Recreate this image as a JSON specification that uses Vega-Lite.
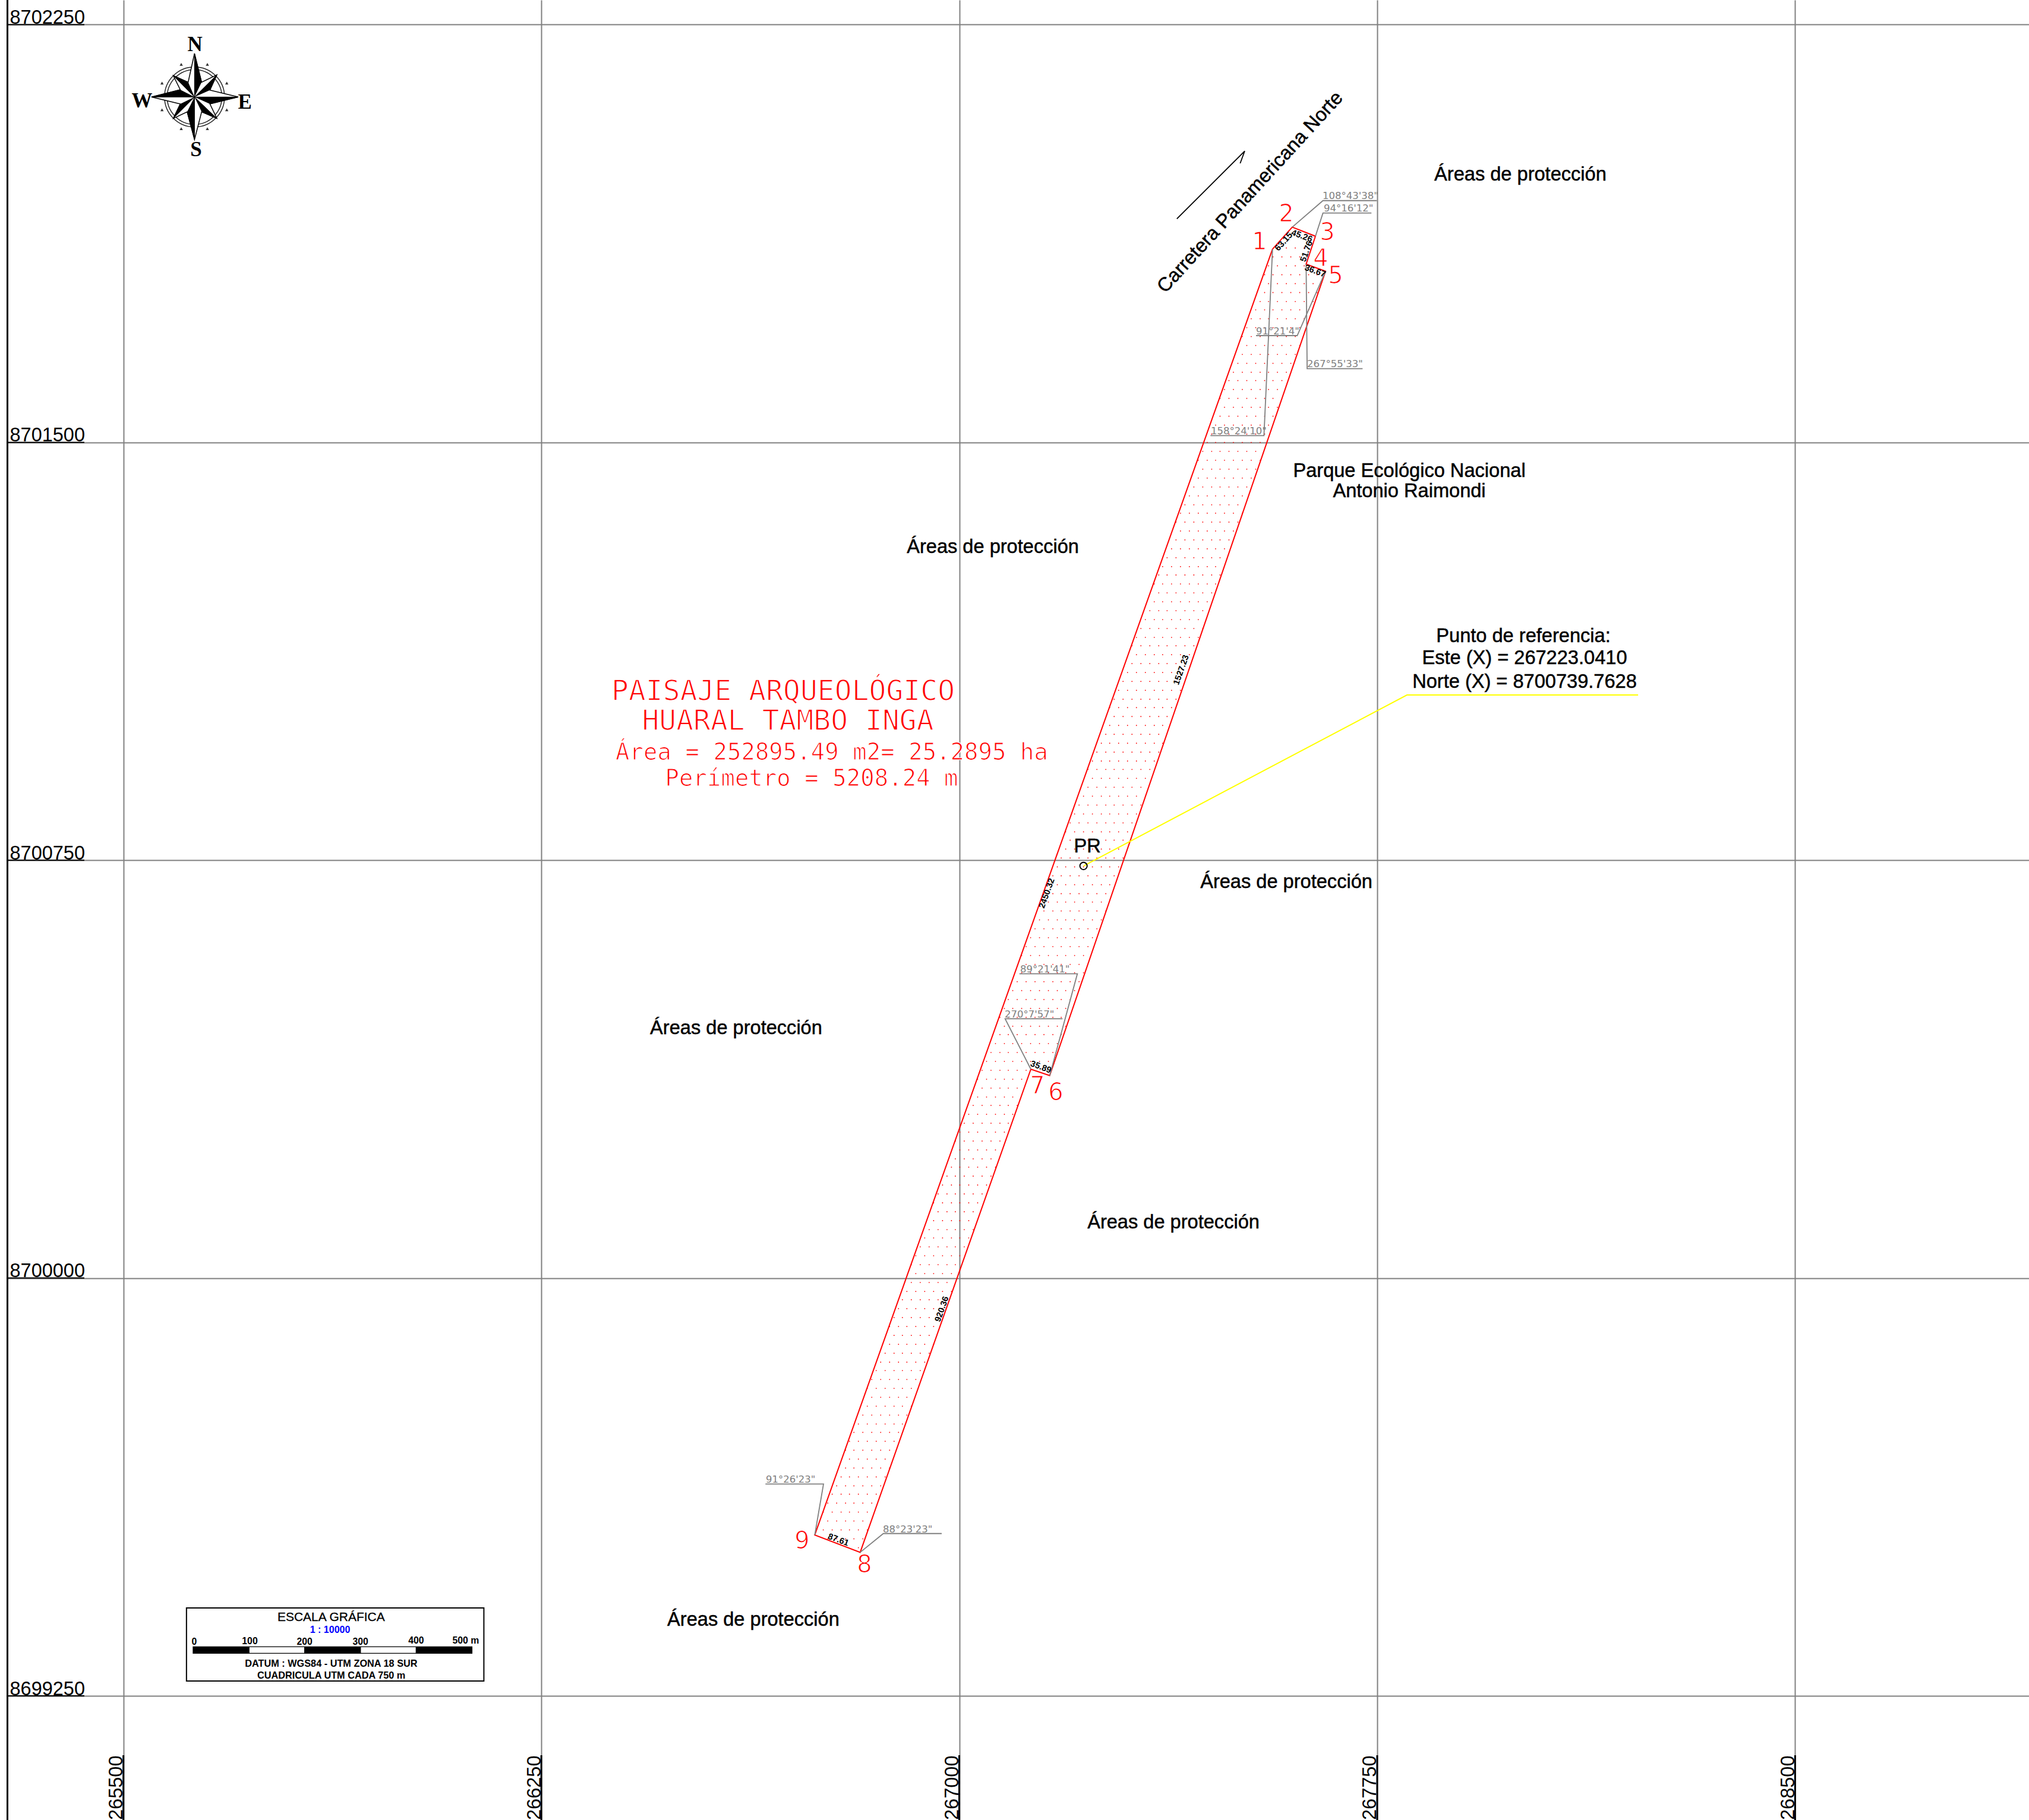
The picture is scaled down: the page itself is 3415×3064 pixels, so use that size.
{"$schema":"https://vega.github.io/schema/vega-lite/v6.json","width":3415,"height":3064,"padding":0,"autosize":{"type":"none"},"background":"white","config":{"view":{"stroke":null}},
"encoding":{"x":{"field":"x","type":"quantitative","scale":{"domain":[265278.55,268919.75],"zero":false,"nice":false},"axis":{"title":null,"values":[265500,266250,267000,267750,268500],"format":"d","domain":false,"ticks":false,"grid":true,"gridColor":"#808080","gridWidth":2,"labels":true,"labelFont":"Liberation Sans","labelFontSize":32.5,"labelColor":"#000","labelAngle":-90,"labelAlign":"right","labelBaseline":"alphabetic","labelPadding":-109,"labelOffset":-2,"labelBound":false,"labelFlush":false,"labelOverlap":false,"encode":{"labels":{"update":{"stroke":{"value":"#000"},"strokeWidth":{"value":0.5}}}}}},"y":{"field":"y","type":"quantitative","scale":{"domain":[8699027.18,8702294.14],"zero":false,"nice":false},"axis":{"title":null,"values":[8699250,8700000,8700750,8701500,8702250],"format":"d","domain":false,"ticks":false,"grid":true,"gridColor":"#808080","gridWidth":2,"labels":true,"labelFont":"Liberation Sans","labelFontSize":32.5,"labelColor":"#000","labelAlign":"left","labelBaseline":"alphabetic","labelPadding":-16,"labelOffset":-2,"labelBound":false,"labelFlush":false,"labelOverlap":false,"encode":{"labels":{"update":{"stroke":{"value":"#000"},"strokeWidth":{"value":0.5}}}}}}},
"layer":[
{"data":{"values":[{"x":265278.55,"x2":265290.3,"y":8699027.18,"y2":8702294.14}]},"mark":{"type":"rect","color":"white"},"encoding":{"x2":{"field":"x2"},"y2":{"field":"y2"}}},
{"data":{"values":[{"x":265291.9,"y":8699027.18,"y2":8702294.14},{"x":265500,"y":8699027.18,"y2":8699143.4},{"x":266250,"y":8699027.18,"y2":8699143.4},{"x":267000,"y":8699027.18,"y2":8699143.4},{"x":267750,"y":8699027.18,"y2":8699143.4},{"x":268500,"y":8699027.18,"y2":8699143.4}]},"mark":{"type":"rule","color":"#000","strokeWidth":3},"encoding":{"y2":{"field":"y2"}}},
{"data":{"values":[{"y":8699250,"x":265293.5,"x2":265429.9},{"y":8700000,"x":265293.5,"x2":265429.9},{"y":8700750,"x":265293.5,"x2":265429.9},{"y":8701500,"x":265293.5,"x2":265429.9},{"y":8702250,"x":265293.5,"x2":265429.9}]},"mark":{"type":"rule","color":"#000","strokeWidth":2},"encoding":{"x2":{"field":"x2"}}},
{"data":{"values":[
{"x":266819,"y":8699516},
{"x":266764,"y":8699532},{"x":266780,"y":8699532},{"x":266796,"y":8699532},{"x":266811,"y":8699532},{"x":266827,"y":8699532},
{"x":266756,"y":8699548},{"x":266772,"y":8699548},{"x":266788,"y":8699548},{"x":266803,"y":8699548},{"x":266819,"y":8699548},{"x":266835,"y":8699548},
{"x":266764,"y":8699564},{"x":266780,"y":8699564},{"x":266796,"y":8699564},{"x":266811,"y":8699564},{"x":266827,"y":8699564},
{"x":266756,"y":8699580},{"x":266772,"y":8699580},{"x":266788,"y":8699580},{"x":266803,"y":8699580},{"x":266819,"y":8699580},{"x":266835,"y":8699580},
{"x":266764,"y":8699596},{"x":266780,"y":8699596},{"x":266796,"y":8699596},{"x":266811,"y":8699596},{"x":266827,"y":8699596},{"x":266843,"y":8699596},
{"x":266772,"y":8699612},{"x":266788,"y":8699612},{"x":266803,"y":8699612},{"x":266819,"y":8699612},{"x":266835,"y":8699612},{"x":266851,"y":8699612},
{"x":266780,"y":8699627},{"x":266796,"y":8699627},{"x":266811,"y":8699627},{"x":266827,"y":8699627},{"x":266843,"y":8699627},{"x":266859,"y":8699627},
{"x":266788,"y":8699643},{"x":266803,"y":8699643},{"x":266819,"y":8699643},{"x":266835,"y":8699643},{"x":266851,"y":8699643},{"x":266867,"y":8699643},
{"x":266796,"y":8699659},{"x":266811,"y":8699659},{"x":266827,"y":8699659},{"x":266843,"y":8699659},{"x":266859,"y":8699659},{"x":266875,"y":8699659},
{"x":266803,"y":8699675},{"x":266819,"y":8699675},{"x":266835,"y":8699675},{"x":266851,"y":8699675},{"x":266867,"y":8699675},
{"x":266796,"y":8699691},{"x":266811,"y":8699691},{"x":266827,"y":8699691},{"x":266843,"y":8699691},{"x":266859,"y":8699691},{"x":266875,"y":8699691},
{"x":266803,"y":8699707},{"x":266819,"y":8699707},{"x":266835,"y":8699707},{"x":266851,"y":8699707},{"x":266867,"y":8699707},{"x":266883,"y":8699707},
{"x":266811,"y":8699723},{"x":266827,"y":8699723},{"x":266843,"y":8699723},{"x":266859,"y":8699723},{"x":266875,"y":8699723},{"x":266891,"y":8699723},
{"x":266819,"y":8699738},{"x":266835,"y":8699738},{"x":266851,"y":8699738},{"x":266867,"y":8699738},{"x":266883,"y":8699738},{"x":266898,"y":8699738},
{"x":266827,"y":8699754},{"x":266843,"y":8699754},{"x":266859,"y":8699754},{"x":266875,"y":8699754},{"x":266891,"y":8699754},{"x":266906,"y":8699754},
{"x":266835,"y":8699770},{"x":266851,"y":8699770},{"x":266867,"y":8699770},{"x":266883,"y":8699770},{"x":266898,"y":8699770},{"x":266914,"y":8699770},
{"x":266843,"y":8699786},{"x":266859,"y":8699786},{"x":266875,"y":8699786},{"x":266891,"y":8699786},{"x":266906,"y":8699786},
{"x":266835,"y":8699802},{"x":266851,"y":8699802},{"x":266867,"y":8699802},{"x":266883,"y":8699802},{"x":266898,"y":8699802},{"x":266914,"y":8699802},
{"x":266843,"y":8699818},{"x":266859,"y":8699818},{"x":266875,"y":8699818},{"x":266891,"y":8699818},{"x":266906,"y":8699818},{"x":266922,"y":8699818},
{"x":266851,"y":8699834},{"x":266867,"y":8699834},{"x":266883,"y":8699834},{"x":266898,"y":8699834},{"x":266914,"y":8699834},{"x":266930,"y":8699834},
{"x":266859,"y":8699849},{"x":266875,"y":8699849},{"x":266891,"y":8699849},{"x":266906,"y":8699849},{"x":266922,"y":8699849},{"x":266938,"y":8699849},
{"x":266867,"y":8699865},{"x":266883,"y":8699865},{"x":266898,"y":8699865},{"x":266914,"y":8699865},{"x":266930,"y":8699865},{"x":266946,"y":8699865},
{"x":266875,"y":8699881},{"x":266891,"y":8699881},{"x":266906,"y":8699881},{"x":266922,"y":8699881},{"x":266938,"y":8699881},{"x":266954,"y":8699881},
{"x":266883,"y":8699897},{"x":266898,"y":8699897},{"x":266914,"y":8699897},{"x":266930,"y":8699897},{"x":266946,"y":8699897},
{"x":266875,"y":8699913},{"x":266891,"y":8699913},{"x":266906,"y":8699913},{"x":266922,"y":8699913},{"x":266938,"y":8699913},{"x":266954,"y":8699913},
{"x":266883,"y":8699929},{"x":266898,"y":8699929},{"x":266914,"y":8699929},{"x":266930,"y":8699929},{"x":266946,"y":8699929},{"x":266962,"y":8699929},
{"x":266891,"y":8699945},{"x":266906,"y":8699945},{"x":266922,"y":8699945},{"x":266938,"y":8699945},{"x":266954,"y":8699945},{"x":266970,"y":8699945},
{"x":266898,"y":8699961},{"x":266914,"y":8699961},{"x":266930,"y":8699961},{"x":266946,"y":8699961},{"x":266962,"y":8699961},{"x":266978,"y":8699961},
{"x":266906,"y":8699976},{"x":266922,"y":8699976},{"x":266938,"y":8699976},{"x":266954,"y":8699976},{"x":266970,"y":8699976},{"x":266986,"y":8699976},
{"x":266914,"y":8699992},{"x":266930,"y":8699992},{"x":266946,"y":8699992},{"x":266962,"y":8699992},{"x":266978,"y":8699992},
{"x":266922,"y":8700008},{"x":266938,"y":8700008},{"x":266954,"y":8700008},{"x":266970,"y":8700008},{"x":266986,"y":8700008},
{"x":266914,"y":8700024},{"x":266930,"y":8700024},{"x":266946,"y":8700024},{"x":266962,"y":8700024},{"x":266978,"y":8700024},{"x":266993,"y":8700024},
{"x":266922,"y":8700040},{"x":266938,"y":8700040},{"x":266954,"y":8700040},{"x":266970,"y":8700040},{"x":266986,"y":8700040},{"x":267001,"y":8700040},
{"x":266930,"y":8700056},{"x":266946,"y":8700056},{"x":266962,"y":8700056},{"x":266978,"y":8700056},{"x":266993,"y":8700056},{"x":267009,"y":8700056},
{"x":266938,"y":8700072},{"x":266954,"y":8700072},{"x":266970,"y":8700072},{"x":266986,"y":8700072},{"x":267001,"y":8700072},{"x":267017,"y":8700072},
{"x":266946,"y":8700087},{"x":266962,"y":8700087},{"x":266978,"y":8700087},{"x":266993,"y":8700087},{"x":267009,"y":8700087},{"x":267025,"y":8700087},
{"x":266954,"y":8700103},{"x":266970,"y":8700103},{"x":266986,"y":8700103},{"x":267001,"y":8700103},{"x":267017,"y":8700103},
{"x":266962,"y":8700119},{"x":266978,"y":8700119},{"x":266993,"y":8700119},{"x":267009,"y":8700119},{"x":267025,"y":8700119},
{"x":266954,"y":8700135},{"x":266970,"y":8700135},{"x":266986,"y":8700135},{"x":267001,"y":8700135},{"x":267017,"y":8700135},{"x":267033,"y":8700135},
{"x":266962,"y":8700151},{"x":266978,"y":8700151},{"x":266993,"y":8700151},{"x":267009,"y":8700151},{"x":267025,"y":8700151},{"x":267041,"y":8700151},
{"x":266970,"y":8700167},{"x":266986,"y":8700167},{"x":267001,"y":8700167},{"x":267017,"y":8700167},{"x":267033,"y":8700167},{"x":267049,"y":8700167},
{"x":266978,"y":8700183},{"x":266993,"y":8700183},{"x":267009,"y":8700183},{"x":267025,"y":8700183},{"x":267041,"y":8700183},{"x":267057,"y":8700183},
{"x":266986,"y":8700199},{"x":267001,"y":8700199},{"x":267017,"y":8700199},{"x":267033,"y":8700199},{"x":267049,"y":8700199},{"x":267065,"y":8700199},
{"x":266993,"y":8700214},{"x":267009,"y":8700214},{"x":267025,"y":8700214},{"x":267041,"y":8700214},{"x":267057,"y":8700214},
{"x":267001,"y":8700230},{"x":267017,"y":8700230},{"x":267033,"y":8700230},{"x":267049,"y":8700230},{"x":267065,"y":8700230},
{"x":266993,"y":8700246},{"x":267009,"y":8700246},{"x":267025,"y":8700246},{"x":267041,"y":8700246},{"x":267057,"y":8700246},{"x":267073,"y":8700246},
{"x":267001,"y":8700262},{"x":267017,"y":8700262},{"x":267033,"y":8700262},{"x":267049,"y":8700262},{"x":267065,"y":8700262},{"x":267081,"y":8700262},
{"x":267009,"y":8700278},{"x":267025,"y":8700278},{"x":267041,"y":8700278},{"x":267057,"y":8700278},{"x":267073,"y":8700278},{"x":267088,"y":8700278},
{"x":267017,"y":8700294},{"x":267033,"y":8700294},{"x":267049,"y":8700294},{"x":267065,"y":8700294},{"x":267081,"y":8700294},{"x":267096,"y":8700294},
{"x":267025,"y":8700310},{"x":267041,"y":8700310},{"x":267057,"y":8700310},{"x":267073,"y":8700310},{"x":267088,"y":8700310},{"x":267104,"y":8700310},
{"x":267033,"y":8700325},{"x":267049,"y":8700325},{"x":267065,"y":8700325},{"x":267081,"y":8700325},{"x":267096,"y":8700325},
{"x":267041,"y":8700341},{"x":267057,"y":8700341},{"x":267073,"y":8700341},{"x":267088,"y":8700341},{"x":267104,"y":8700341},
{"x":267033,"y":8700357},{"x":267049,"y":8700357},{"x":267065,"y":8700357},{"x":267081,"y":8700357},{"x":267096,"y":8700357},{"x":267112,"y":8700357},
{"x":267041,"y":8700373},{"x":267057,"y":8700373},{"x":267073,"y":8700373},{"x":267088,"y":8700373},{"x":267104,"y":8700373},{"x":267120,"y":8700373},
{"x":267049,"y":8700389},{"x":267065,"y":8700389},{"x":267081,"y":8700389},{"x":267096,"y":8700389},{"x":267112,"y":8700389},{"x":267128,"y":8700389},{"x":267144,"y":8700389},{"x":267160,"y":8700389},
{"x":267057,"y":8700405},{"x":267073,"y":8700405},{"x":267088,"y":8700405},{"x":267104,"y":8700405},{"x":267120,"y":8700405},{"x":267136,"y":8700405},{"x":267152,"y":8700405},{"x":267168,"y":8700405},
{"x":267065,"y":8700421},{"x":267081,"y":8700421},{"x":267096,"y":8700421},{"x":267112,"y":8700421},{"x":267128,"y":8700421},{"x":267144,"y":8700421},{"x":267160,"y":8700421},{"x":267176,"y":8700421},
{"x":267073,"y":8700437},{"x":267088,"y":8700437},{"x":267104,"y":8700437},{"x":267120,"y":8700437},{"x":267136,"y":8700437},{"x":267152,"y":8700437},{"x":267168,"y":8700437},{"x":267183,"y":8700437},
{"x":267081,"y":8700452},{"x":267096,"y":8700452},{"x":267112,"y":8700452},{"x":267128,"y":8700452},{"x":267144,"y":8700452},{"x":267160,"y":8700452},{"x":267176,"y":8700452},{"x":267191,"y":8700452},
{"x":267073,"y":8700468},{"x":267088,"y":8700468},{"x":267104,"y":8700468},{"x":267120,"y":8700468},{"x":267136,"y":8700468},{"x":267152,"y":8700468},{"x":267168,"y":8700468},{"x":267183,"y":8700468},
{"x":267081,"y":8700484},{"x":267096,"y":8700484},{"x":267112,"y":8700484},{"x":267128,"y":8700484},{"x":267144,"y":8700484},{"x":267160,"y":8700484},{"x":267176,"y":8700484},{"x":267191,"y":8700484},
{"x":267088,"y":8700500},{"x":267104,"y":8700500},{"x":267120,"y":8700500},{"x":267136,"y":8700500},{"x":267152,"y":8700500},{"x":267168,"y":8700500},{"x":267183,"y":8700500},{"x":267199,"y":8700500},
{"x":267096,"y":8700516},{"x":267112,"y":8700516},{"x":267128,"y":8700516},{"x":267144,"y":8700516},{"x":267160,"y":8700516},{"x":267176,"y":8700516},{"x":267191,"y":8700516},{"x":267207,"y":8700516},
{"x":267104,"y":8700532},{"x":267120,"y":8700532},{"x":267136,"y":8700532},{"x":267152,"y":8700532},{"x":267168,"y":8700532},{"x":267183,"y":8700532},{"x":267199,"y":8700532},{"x":267215,"y":8700532},
{"x":267112,"y":8700548},{"x":267128,"y":8700548},{"x":267144,"y":8700548},{"x":267160,"y":8700548},{"x":267176,"y":8700548},{"x":267191,"y":8700548},{"x":267207,"y":8700548},{"x":267223,"y":8700548},
{"x":267120,"y":8700563},{"x":267136,"y":8700563},{"x":267152,"y":8700563},{"x":267168,"y":8700563},{"x":267183,"y":8700563},{"x":267199,"y":8700563},{"x":267215,"y":8700563},
{"x":267112,"y":8700579},{"x":267128,"y":8700579},{"x":267144,"y":8700579},{"x":267160,"y":8700579},{"x":267176,"y":8700579},{"x":267191,"y":8700579},{"x":267207,"y":8700579},{"x":267223,"y":8700579},
{"x":267120,"y":8700595},{"x":267136,"y":8700595},{"x":267152,"y":8700595},{"x":267168,"y":8700595},{"x":267183,"y":8700595},{"x":267199,"y":8700595},{"x":267215,"y":8700595},{"x":267231,"y":8700595},
{"x":267128,"y":8700611},{"x":267144,"y":8700611},{"x":267160,"y":8700611},{"x":267176,"y":8700611},{"x":267191,"y":8700611},{"x":267207,"y":8700611},{"x":267223,"y":8700611},{"x":267239,"y":8700611},
{"x":267136,"y":8700627},{"x":267152,"y":8700627},{"x":267168,"y":8700627},{"x":267183,"y":8700627},{"x":267199,"y":8700627},{"x":267215,"y":8700627},{"x":267231,"y":8700627},{"x":267247,"y":8700627},
{"x":267144,"y":8700643},{"x":267160,"y":8700643},{"x":267176,"y":8700643},{"x":267191,"y":8700643},{"x":267207,"y":8700643},{"x":267223,"y":8700643},{"x":267239,"y":8700643},{"x":267255,"y":8700643},
{"x":267152,"y":8700659},{"x":267168,"y":8700659},{"x":267183,"y":8700659},{"x":267199,"y":8700659},{"x":267215,"y":8700659},{"x":267231,"y":8700659},{"x":267247,"y":8700659},{"x":267263,"y":8700659},
{"x":267160,"y":8700675},{"x":267176,"y":8700675},{"x":267191,"y":8700675},{"x":267207,"y":8700675},{"x":267223,"y":8700675},{"x":267239,"y":8700675},{"x":267255,"y":8700675},
{"x":267152,"y":8700690},{"x":267168,"y":8700690},{"x":267183,"y":8700690},{"x":267199,"y":8700690},{"x":267215,"y":8700690},{"x":267231,"y":8700690},{"x":267247,"y":8700690},{"x":267263,"y":8700690},
{"x":267160,"y":8700706},{"x":267176,"y":8700706},{"x":267191,"y":8700706},{"x":267207,"y":8700706},{"x":267223,"y":8700706},{"x":267239,"y":8700706},{"x":267255,"y":8700706},{"x":267270,"y":8700706},
{"x":267168,"y":8700722},{"x":267183,"y":8700722},{"x":267199,"y":8700722},{"x":267215,"y":8700722},{"x":267231,"y":8700722},{"x":267247,"y":8700722},{"x":267263,"y":8700722},{"x":267278,"y":8700722},
{"x":267176,"y":8700738},{"x":267191,"y":8700738},{"x":267207,"y":8700738},{"x":267223,"y":8700738},{"x":267239,"y":8700738},{"x":267255,"y":8700738},{"x":267270,"y":8700738},{"x":267286,"y":8700738},
{"x":267183,"y":8700754},{"x":267199,"y":8700754},{"x":267215,"y":8700754},{"x":267231,"y":8700754},{"x":267247,"y":8700754},{"x":267263,"y":8700754},{"x":267278,"y":8700754},{"x":267294,"y":8700754},
{"x":267191,"y":8700770},{"x":267207,"y":8700770},{"x":267223,"y":8700770},{"x":267239,"y":8700770},{"x":267255,"y":8700770},{"x":267270,"y":8700770},{"x":267286,"y":8700770},
{"x":267199,"y":8700786},{"x":267215,"y":8700786},{"x":267231,"y":8700786},{"x":267247,"y":8700786},{"x":267263,"y":8700786},{"x":267278,"y":8700786},{"x":267294,"y":8700786},
{"x":267191,"y":8700801},{"x":267207,"y":8700801},{"x":267223,"y":8700801},{"x":267239,"y":8700801},{"x":267255,"y":8700801},{"x":267270,"y":8700801},{"x":267286,"y":8700801},{"x":267302,"y":8700801},
{"x":267199,"y":8700817},{"x":267215,"y":8700817},{"x":267231,"y":8700817},{"x":267247,"y":8700817},{"x":267263,"y":8700817},{"x":267278,"y":8700817},{"x":267294,"y":8700817},{"x":267310,"y":8700817},
{"x":267207,"y":8700833},{"x":267223,"y":8700833},{"x":267239,"y":8700833},{"x":267255,"y":8700833},{"x":267270,"y":8700833},{"x":267286,"y":8700833},{"x":267302,"y":8700833},{"x":267318,"y":8700833},
{"x":267215,"y":8700849},{"x":267231,"y":8700849},{"x":267247,"y":8700849},{"x":267263,"y":8700849},{"x":267278,"y":8700849},{"x":267294,"y":8700849},{"x":267310,"y":8700849},{"x":267326,"y":8700849},
{"x":267223,"y":8700865},{"x":267239,"y":8700865},{"x":267255,"y":8700865},{"x":267270,"y":8700865},{"x":267286,"y":8700865},{"x":267302,"y":8700865},{"x":267318,"y":8700865},{"x":267334,"y":8700865},
{"x":267231,"y":8700881},{"x":267247,"y":8700881},{"x":267263,"y":8700881},{"x":267278,"y":8700881},{"x":267294,"y":8700881},{"x":267310,"y":8700881},{"x":267326,"y":8700881},
{"x":267239,"y":8700897},{"x":267255,"y":8700897},{"x":267270,"y":8700897},{"x":267286,"y":8700897},{"x":267302,"y":8700897},{"x":267318,"y":8700897},{"x":267334,"y":8700897},
{"x":267231,"y":8700913},{"x":267247,"y":8700913},{"x":267263,"y":8700913},{"x":267278,"y":8700913},{"x":267294,"y":8700913},{"x":267310,"y":8700913},{"x":267326,"y":8700913},{"x":267342,"y":8700913},
{"x":267239,"y":8700928},{"x":267255,"y":8700928},{"x":267270,"y":8700928},{"x":267286,"y":8700928},{"x":267302,"y":8700928},{"x":267318,"y":8700928},{"x":267334,"y":8700928},{"x":267350,"y":8700928},
{"x":267247,"y":8700944},{"x":267263,"y":8700944},{"x":267278,"y":8700944},{"x":267294,"y":8700944},{"x":267310,"y":8700944},{"x":267326,"y":8700944},{"x":267342,"y":8700944},{"x":267358,"y":8700944},
{"x":267255,"y":8700960},{"x":267270,"y":8700960},{"x":267286,"y":8700960},{"x":267302,"y":8700960},{"x":267318,"y":8700960},{"x":267334,"y":8700960},{"x":267350,"y":8700960},{"x":267365,"y":8700960},
{"x":267263,"y":8700976},{"x":267278,"y":8700976},{"x":267294,"y":8700976},{"x":267310,"y":8700976},{"x":267326,"y":8700976},{"x":267342,"y":8700976},{"x":267358,"y":8700976},
{"x":267270,"y":8700992},{"x":267286,"y":8700992},{"x":267302,"y":8700992},{"x":267318,"y":8700992},{"x":267334,"y":8700992},{"x":267350,"y":8700992},{"x":267365,"y":8700992},
{"x":267278,"y":8701008},{"x":267294,"y":8701008},{"x":267310,"y":8701008},{"x":267326,"y":8701008},{"x":267342,"y":8701008},{"x":267358,"y":8701008},{"x":267373,"y":8701008},
{"x":267270,"y":8701024},{"x":267286,"y":8701024},{"x":267302,"y":8701024},{"x":267318,"y":8701024},{"x":267334,"y":8701024},{"x":267350,"y":8701024},{"x":267365,"y":8701024},{"x":267381,"y":8701024},
{"x":267278,"y":8701039},{"x":267294,"y":8701039},{"x":267310,"y":8701039},{"x":267326,"y":8701039},{"x":267342,"y":8701039},{"x":267358,"y":8701039},{"x":267373,"y":8701039},{"x":267389,"y":8701039},
{"x":267286,"y":8701055},{"x":267302,"y":8701055},{"x":267318,"y":8701055},{"x":267334,"y":8701055},{"x":267350,"y":8701055},{"x":267365,"y":8701055},{"x":267381,"y":8701055},{"x":267397,"y":8701055},
{"x":267294,"y":8701071},{"x":267310,"y":8701071},{"x":267326,"y":8701071},{"x":267342,"y":8701071},{"x":267358,"y":8701071},{"x":267373,"y":8701071},{"x":267389,"y":8701071},
{"x":267302,"y":8701087},{"x":267318,"y":8701087},{"x":267334,"y":8701087},{"x":267350,"y":8701087},{"x":267365,"y":8701087},{"x":267381,"y":8701087},{"x":267397,"y":8701087},
{"x":267310,"y":8701103},{"x":267326,"y":8701103},{"x":267342,"y":8701103},{"x":267358,"y":8701103},{"x":267373,"y":8701103},{"x":267389,"y":8701103},{"x":267405,"y":8701103},
{"x":267318,"y":8701119},{"x":267334,"y":8701119},{"x":267350,"y":8701119},{"x":267365,"y":8701119},{"x":267381,"y":8701119},{"x":267397,"y":8701119},{"x":267413,"y":8701119},
{"x":267310,"y":8701135},{"x":267326,"y":8701135},{"x":267342,"y":8701135},{"x":267358,"y":8701135},{"x":267373,"y":8701135},{"x":267389,"y":8701135},{"x":267405,"y":8701135},{"x":267421,"y":8701135},
{"x":267318,"y":8701150},{"x":267334,"y":8701150},{"x":267350,"y":8701150},{"x":267365,"y":8701150},{"x":267381,"y":8701150},{"x":267397,"y":8701150},{"x":267413,"y":8701150},{"x":267429,"y":8701150},
{"x":267326,"y":8701166},{"x":267342,"y":8701166},{"x":267358,"y":8701166},{"x":267373,"y":8701166},{"x":267389,"y":8701166},{"x":267405,"y":8701166},{"x":267421,"y":8701166},{"x":267437,"y":8701166},
{"x":267334,"y":8701182},{"x":267350,"y":8701182},{"x":267365,"y":8701182},{"x":267381,"y":8701182},{"x":267397,"y":8701182},{"x":267413,"y":8701182},{"x":267429,"y":8701182},
{"x":267342,"y":8701198},{"x":267358,"y":8701198},{"x":267373,"y":8701198},{"x":267389,"y":8701198},{"x":267405,"y":8701198},{"x":267421,"y":8701198},{"x":267437,"y":8701198},
{"x":267350,"y":8701214},{"x":267365,"y":8701214},{"x":267381,"y":8701214},{"x":267397,"y":8701214},{"x":267413,"y":8701214},{"x":267429,"y":8701214},{"x":267445,"y":8701214},
{"x":267358,"y":8701230},{"x":267373,"y":8701230},{"x":267389,"y":8701230},{"x":267405,"y":8701230},{"x":267421,"y":8701230},{"x":267437,"y":8701230},{"x":267453,"y":8701230},
{"x":267350,"y":8701246},{"x":267365,"y":8701246},{"x":267381,"y":8701246},{"x":267397,"y":8701246},{"x":267413,"y":8701246},{"x":267429,"y":8701246},{"x":267445,"y":8701246},{"x":267460,"y":8701246},
{"x":267358,"y":8701262},{"x":267373,"y":8701262},{"x":267389,"y":8701262},{"x":267405,"y":8701262},{"x":267421,"y":8701262},{"x":267437,"y":8701262},{"x":267453,"y":8701262},{"x":267468,"y":8701262},
{"x":267365,"y":8701277},{"x":267381,"y":8701277},{"x":267397,"y":8701277},{"x":267413,"y":8701277},{"x":267429,"y":8701277},{"x":267445,"y":8701277},{"x":267460,"y":8701277},
{"x":267373,"y":8701293},{"x":267389,"y":8701293},{"x":267405,"y":8701293},{"x":267421,"y":8701293},{"x":267437,"y":8701293},{"x":267453,"y":8701293},{"x":267468,"y":8701293},
{"x":267381,"y":8701309},{"x":267397,"y":8701309},{"x":267413,"y":8701309},{"x":267429,"y":8701309},{"x":267445,"y":8701309},{"x":267460,"y":8701309},{"x":267476,"y":8701309},
{"x":267389,"y":8701325},{"x":267405,"y":8701325},{"x":267421,"y":8701325},{"x":267437,"y":8701325},{"x":267453,"y":8701325},{"x":267468,"y":8701325},{"x":267484,"y":8701325},
{"x":267397,"y":8701341},{"x":267413,"y":8701341},{"x":267429,"y":8701341},{"x":267445,"y":8701341},{"x":267460,"y":8701341},{"x":267476,"y":8701341},{"x":267492,"y":8701341},
{"x":267389,"y":8701357},{"x":267405,"y":8701357},{"x":267421,"y":8701357},{"x":267437,"y":8701357},{"x":267453,"y":8701357},{"x":267468,"y":8701357},{"x":267484,"y":8701357},{"x":267500,"y":8701357},
{"x":267397,"y":8701373},{"x":267413,"y":8701373},{"x":267429,"y":8701373},{"x":267445,"y":8701373},{"x":267460,"y":8701373},{"x":267476,"y":8701373},{"x":267492,"y":8701373},{"x":267508,"y":8701373},
{"x":267405,"y":8701388},{"x":267421,"y":8701388},{"x":267437,"y":8701388},{"x":267453,"y":8701388},{"x":267468,"y":8701388},{"x":267484,"y":8701388},{"x":267500,"y":8701388},
{"x":267413,"y":8701404},{"x":267429,"y":8701404},{"x":267445,"y":8701404},{"x":267460,"y":8701404},{"x":267476,"y":8701404},{"x":267492,"y":8701404},{"x":267508,"y":8701404},
{"x":267421,"y":8701420},{"x":267437,"y":8701420},{"x":267453,"y":8701420},{"x":267468,"y":8701420},{"x":267484,"y":8701420},{"x":267500,"y":8701420},{"x":267516,"y":8701420},
{"x":267429,"y":8701436},{"x":267445,"y":8701436},{"x":267460,"y":8701436},{"x":267476,"y":8701436},{"x":267492,"y":8701436},{"x":267508,"y":8701436},{"x":267524,"y":8701436},
{"x":267437,"y":8701452},{"x":267453,"y":8701452},{"x":267468,"y":8701452},{"x":267484,"y":8701452},{"x":267500,"y":8701452},{"x":267516,"y":8701452},{"x":267532,"y":8701452},
{"x":267429,"y":8701468},{"x":267445,"y":8701468},{"x":267460,"y":8701468},{"x":267476,"y":8701468},{"x":267492,"y":8701468},{"x":267508,"y":8701468},{"x":267524,"y":8701468},{"x":267540,"y":8701468},
{"x":267437,"y":8701484},{"x":267453,"y":8701484},{"x":267468,"y":8701484},{"x":267484,"y":8701484},{"x":267500,"y":8701484},{"x":267516,"y":8701484},{"x":267532,"y":8701484},
{"x":267445,"y":8701500},{"x":267460,"y":8701500},{"x":267476,"y":8701500},{"x":267492,"y":8701500},{"x":267508,"y":8701500},{"x":267524,"y":8701500},{"x":267540,"y":8701500},
{"x":267453,"y":8701515},{"x":267468,"y":8701515},{"x":267484,"y":8701515},{"x":267500,"y":8701515},{"x":267516,"y":8701515},{"x":267532,"y":8701515},{"x":267548,"y":8701515},
{"x":267460,"y":8701531},{"x":267476,"y":8701531},{"x":267492,"y":8701531},{"x":267508,"y":8701531},{"x":267524,"y":8701531},{"x":267540,"y":8701531},{"x":267555,"y":8701531},
{"x":267468,"y":8701547},{"x":267484,"y":8701547},{"x":267500,"y":8701547},{"x":267516,"y":8701547},{"x":267532,"y":8701547},{"x":267548,"y":8701547},{"x":267563,"y":8701547},
{"x":267476,"y":8701563},{"x":267492,"y":8701563},{"x":267508,"y":8701563},{"x":267524,"y":8701563},{"x":267540,"y":8701563},{"x":267555,"y":8701563},{"x":267571,"y":8701563},
{"x":267468,"y":8701579},{"x":267484,"y":8701579},{"x":267500,"y":8701579},{"x":267516,"y":8701579},{"x":267532,"y":8701579},{"x":267548,"y":8701579},{"x":267563,"y":8701579},
{"x":267476,"y":8701595},{"x":267492,"y":8701595},{"x":267508,"y":8701595},{"x":267524,"y":8701595},{"x":267540,"y":8701595},{"x":267555,"y":8701595},{"x":267571,"y":8701595},
{"x":267484,"y":8701611},{"x":267500,"y":8701611},{"x":267516,"y":8701611},{"x":267532,"y":8701611},{"x":267548,"y":8701611},{"x":267563,"y":8701611},{"x":267579,"y":8701611},
{"x":267492,"y":8701626},{"x":267508,"y":8701626},{"x":267524,"y":8701626},{"x":267540,"y":8701626},{"x":267555,"y":8701626},{"x":267571,"y":8701626},{"x":267587,"y":8701626},
{"x":267500,"y":8701642},{"x":267516,"y":8701642},{"x":267532,"y":8701642},{"x":267548,"y":8701642},{"x":267563,"y":8701642},{"x":267579,"y":8701642},{"x":267595,"y":8701642},
{"x":267508,"y":8701658},{"x":267524,"y":8701658},{"x":267540,"y":8701658},{"x":267555,"y":8701658},{"x":267571,"y":8701658},{"x":267587,"y":8701658},{"x":267603,"y":8701658},
{"x":267516,"y":8701674},{"x":267532,"y":8701674},{"x":267548,"y":8701674},{"x":267563,"y":8701674},{"x":267579,"y":8701674},{"x":267595,"y":8701674},{"x":267611,"y":8701674},
{"x":267508,"y":8701690},{"x":267524,"y":8701690},{"x":267540,"y":8701690},{"x":267555,"y":8701690},{"x":267571,"y":8701690},{"x":267587,"y":8701690},{"x":267603,"y":8701690},
{"x":267516,"y":8701706},{"x":267532,"y":8701706},{"x":267548,"y":8701706},{"x":267563,"y":8701706},{"x":267579,"y":8701706},{"x":267595,"y":8701706},{"x":267611,"y":8701706},
{"x":267524,"y":8701722},{"x":267540,"y":8701722},{"x":267555,"y":8701722},{"x":267571,"y":8701722},{"x":267587,"y":8701722},{"x":267603,"y":8701722},{"x":267619,"y":8701722},
{"x":267532,"y":8701738},{"x":267548,"y":8701738},{"x":267563,"y":8701738},{"x":267579,"y":8701738},{"x":267595,"y":8701738},{"x":267611,"y":8701738},{"x":267627,"y":8701738},
{"x":267540,"y":8701753},{"x":267555,"y":8701753},{"x":267571,"y":8701753},{"x":267587,"y":8701753},{"x":267603,"y":8701753},{"x":267619,"y":8701753},{"x":267635,"y":8701753},
{"x":267548,"y":8701769},{"x":267563,"y":8701769},{"x":267579,"y":8701769},{"x":267595,"y":8701769},{"x":267611,"y":8701769},{"x":267627,"y":8701769},{"x":267642,"y":8701769},
{"x":267555,"y":8701785},{"x":267571,"y":8701785},{"x":267587,"y":8701785},{"x":267603,"y":8701785},{"x":267619,"y":8701785},{"x":267635,"y":8701785},
{"x":267548,"y":8701801},{"x":267563,"y":8701801},{"x":267579,"y":8701801},{"x":267595,"y":8701801},{"x":267611,"y":8701801},{"x":267627,"y":8701801},{"x":267642,"y":8701801},
{"x":267555,"y":8701817},{"x":267571,"y":8701817},{"x":267587,"y":8701817},{"x":267603,"y":8701817},{"x":267619,"y":8701817},
{"x":267563,"y":8701833},{"x":267579,"y":8701833},{"x":267595,"y":8701833},{"x":267611,"y":8701833},
{"x":267571,"y":8701849},{"x":267587,"y":8701849},{"x":267603,"y":8701849},{"x":267619,"y":8701849}
]},"mark":{"type":"point","shape":"circle","size":3.2,"filled":true,"color":"#ff0000","opacity":1,"strokeWidth":0}},
{"data":{"values":[{"o":1,"x":267562.2,"y":8701847.0},{"o":2,"x":267597.6,"y":8701886.5},{"o":3,"x":267639.2,"y":8701870.1},{"o":4,"x":267622.5,"y":8701820.0},{"o":5,"x":267657.4,"y":8701807.2},{"o":6,"x":267162.3,"y":8700363.5},{"o":7,"x":267128.5,"y":8700374.9},{"o":8,"x":266822.2,"y":8699507.7},{"o":9,"x":266740.7,"y":8699538.9},{"o":10,"x":267562.2,"y":8701847.0}]},"mark":{"type":"line","color":"#ff0000","strokeWidth":2},"encoding":{"order":{"field":"o"}}},
{"data":{"values":[
{"g":"a","o":1,"x":267597.6,"y":8701886.5},{"g":"a","o":2,"x":267652.7,"y":8701934.0},{"g":"a","o":3,"x":267749.4,"y":8701934.0},
{"g":"b","o":1,"x":267639.2,"y":8701870.1},{"g":"b","o":2,"x":267652.7,"y":8701911.7},{"g":"b","o":3,"x":267739.7,"y":8701911.7},
{"g":"c","o":1,"x":267657.4,"y":8701807.2},{"g":"c","o":2,"x":267606.5,"y":8701691.7},{"g":"c","o":3,"x":267532.6,"y":8701691.7},
{"g":"d","o":1,"x":267622.5,"y":8701820.0},{"g":"d","o":2,"x":267624.3,"y":8701632.3},{"g":"d","o":3,"x":267723.8,"y":8701632.3},
{"g":"e","o":1,"x":267562.2,"y":8701847.0},{"g":"e","o":2,"x":267546.8,"y":8701512.2},{"g":"e","o":3,"x":267450.8,"y":8701512.2},
{"g":"f","o":1,"x":267162.3,"y":8700363.5},{"g":"f","o":2,"x":267212.0,"y":8700546.2},{"g":"f","o":3,"x":267108.0,"y":8700546.2},
{"g":"g","o":1,"x":267128.5,"y":8700374.9},{"g":"g","o":2,"x":267082.3,"y":8700465.5},{"g":"g","o":3,"x":267185.3,"y":8700465.5},
{"g":"h","o":1,"x":266740.7,"y":8699538.9},{"g":"h","o":2,"x":266756.4,"y":8699630.3},{"g":"h","o":3,"x":266652.2,"y":8699630.3},
{"g":"i","o":1,"x":266822.2,"y":8699507.7},{"g":"i","o":2,"x":266863.8,"y":8699541.4},{"g":"i","o":3,"x":266968.5,"y":8699541.4}]},"mark":{"type":"line","color":"#808080","strokeWidth":1.8},"encoding":{"detail":{"field":"g"},"order":{"field":"o"}}},
{"data":{"values":[{"o":1,"x":267223.0,"y":8700739.8},{"o":2,"x":267803.4,"y":8701046.6},{"o":3,"x":268218.3,"y":8701046.6}]},"mark":{"type":"line","color":"#ffff00","strokeWidth":2},"encoding":{"order":{"field":"o"}}},
{"data":{"values":[{"x":267223.0,"y":8700739.8}]},"mark":{"type":"point","shape":"circle","size":150,"stroke":"#000","strokeWidth":2,"filled":false,"opacity":1}},
{"data":{"values":[{"o":1,"x":267390.5,"y":8701901.4},{"o":2,"x":267512.3,"y":8702023.0},{"o":3,"x":267504.1,"y":8702000.9}]},"mark":{"type":"line","color":"#000","strokeWidth":1.8},"encoding":{"order":{"field":"o"}}},
{"data":{"values":[{"x":265613.2,"x2":266146.9,"y":8699276.6,"y2":8699407.8}]},"mark":{"type":"rect","fill":"white","stroke":"#000","strokeWidth":2},"encoding":{"x2":{"field":"x2"},"y2":{"field":"y2"}}},
{"data":{"values":[{"x":265624.4,"x2":266126.3,"y":8699325.7,"y2":8699338.8}]},"mark":{"type":"rect","color":"#000"},"encoding":{"x2":{"field":"x2"},"y2":{"field":"y2"}}},
{"data":{"values":[{"x":265726.2,"x2":265824.5,"y":8699327,"y2":8699337.5},{"x":265926.2,"x2":266024.6,"y":8699327,"y2":8699337.5}]},"mark":{"type":"rect","color":"#fff"},"encoding":{"x2":{"field":"x2"},"y2":{"field":"y2"}}},
{"data":{"values":[{"x":265627.6,"y":8702120.0}]},"mark":{"type":"point","shape":"circle","size":10207,"stroke":"#222","strokeWidth":1.5,"filled":false,"opacity":1}},
{"data":{"values":[{"x":265627.6,"y":8702120.0}]},"mark":{"type":"point","shape":"circle","size":8495,"stroke":"#222","strokeWidth":1.5,"filled":false,"opacity":1}},
{"data":{"values":[{"x":265603.8,"y":8702178.6},{"x":265650.7,"y":8702178.6},{"x":265685.5,"y":8702144.9},{"x":265685.5,"y":8702096.9},{"x":265650.7,"y":8702063.1},{"x":265603.8,"y":8702063.1},{"x":265569.3,"y":8702144.9},{"x":265569.3,"y":8702096.9}]},"mark":{"type":"point","shape":"triangle-up","size":30,"filled":true,"color":"#333","opacity":1}},
{"data":{"values":[
{"o":1,"x":265627.6,"y":8702198.2},{"o":2,"x":265616.2,"y":8702146.6},{"o":3,"x":265589.5,"y":8702158.4},{"o":4,"x":265602.0,"y":8702133.1},{"o":5,"x":265550.4,"y":8702120.0},{"o":6,"x":265602.0,"y":8702107.6},{"o":7,"x":265589.5,"y":8702081.6},{"o":8,"x":265614.4,"y":8702093.3},{"o":9,"x":265627.6,"y":8702043.6},{"o":10,"x":265640.4,"y":8702093.3},{"o":11,"x":265667.7,"y":8702081.6},{"o":12,"x":265655.3,"y":8702107.6},{"o":13,"x":265706.1,"y":8702120.0},{"o":14,"x":265655.3,"y":8702132.4},{"o":15,"x":265667.7,"y":8702159.8},{"o":16,"x":265640.4,"y":8702146.6},{"o":17,"x":265627.6,"y":8702198.2}]},"mark":{"type":"line","color":"#000","strokeWidth":1.5,"fill":"#fff"},"encoding":{"order":{"field":"o"}}},
{"data":{"values":[
{"g":"n","o":1,"x":265627.6,"y":8702120.0},{"g":"n","o":2,"x":265627.6,"y":8702198.2},{"g":"n","o":3,"x":265640.4,"y":8702146.6},
{"g":"ne","o":1,"x":265627.6,"y":8702120.0},{"g":"ne","o":2,"x":265667.7,"y":8702159.8},{"g":"ne","o":3,"x":265655.3,"y":8702132.4},
{"g":"e","o":1,"x":265627.6,"y":8702120.0},{"g":"e","o":2,"x":265706.1,"y":8702120.0},{"g":"e","o":3,"x":265655.3,"y":8702107.6},
{"g":"se","o":1,"x":265627.6,"y":8702120.0},{"g":"se","o":2,"x":265667.7,"y":8702081.6},{"g":"se","o":3,"x":265640.4,"y":8702093.3},
{"g":"s","o":1,"x":265627.6,"y":8702120.0},{"g":"s","o":2,"x":265627.6,"y":8702043.6},{"g":"s","o":3,"x":265614.4,"y":8702093.3},
{"g":"sw","o":1,"x":265627.6,"y":8702120.0},{"g":"sw","o":2,"x":265589.5,"y":8702081.6},{"g":"sw","o":3,"x":265602.0,"y":8702107.6},
{"g":"w","o":1,"x":265627.6,"y":8702120.0},{"g":"w","o":2,"x":265550.4,"y":8702120.0},{"g":"w","o":3,"x":265602.0,"y":8702133.1},
{"g":"nw","o":1,"x":265627.6,"y":8702120.0},{"g":"nw","o":2,"x":265589.5,"y":8702158.4},{"g":"nw","o":3,"x":265616.2,"y":8702146.6}]},"mark":{"type":"line","color":"#000","strokeWidth":1,"fill":"#000"},"encoding":{"detail":{"field":"g"},"order":{"field":"o"}}},
{"data":{"values":[{"t":"N","x":265628.3,"y":8702214.2},{"t":"W","x":265533.4,"y":8702112.9},{"t":"E","x":265717.9,"y":8702110.7},{"t":"S","x":265630.4,"y":8702025.4}]},"mark":{"type":"text","font":"Liberation Serif","fontWeight":"bold","fontSize":35,"color":"#000","align":"center","baseline":"middle"},"encoding":{"text":{"field":"t"}}},
{"data":{"values":[{"t":"Áreas de protección","x":268007.0,"y":8701982.8},{"t":"Áreas de protección","x":267060.3,"y":8701314.2},{"t":"Áreas de protección","x":267587.0,"y":8700712.9},{"t":"Áreas de protección","x":266599.6,"y":8700450.6},{"t":"Áreas de protección","x":267384.4,"y":8700101.9},{"t":"Áreas de protección","x":266630.5,"y":8699388.6},{"t":"Parque Ecológico Nacional","x":267807.7,"y":8701450.7},{"t":"Antonio Raimondi","x":267807.7,"y":8701414.5},{"t":"Punto de referencia:","x":268012.4,"y":8701154.3},{"t":"Este (X) = 267223.0410","x":268014.5,"y":8701114.9},{"t":"Norte (X) = 8700739.7628","x":268014.5,"y":8701072.2},{"t":"PR","x":267229.8,"y":8700776.8}]},"mark":{"type":"text","font":"Liberation Sans","fontSize":32.6,"color":"#000","stroke":"#000","strokeWidth":0.5,"align":"center","baseline":"middle","dy":2},"encoding":{"text":{"field":"t"}}},
{"data":{"values":[{"t":"Carretera Panamericana Norte","x":267519.8,"y":8701949.7}]},"mark":{"type":"text","font":"Liberation Sans","fontSize":32.6,"color":"#000","stroke":"#000","strokeWidth":0.5,"align":"center","baseline":"middle","angle":-47.6,"dx":1,"dy":2},"encoding":{"text":{"field":"t"}}},
{"data":{"values":[{"t":"PAISAJE ARQUEOLÓGICO","x":266683.9,"y":8701054.1},{"t":"HUARAL TAMBO INGA","x":266692.4,"y":8701000.7}]},"mark":{"type":"text","font":"DejaVu Sans Mono","fontSize":48,"color":"#ff0000","stroke":"#fff","strokeWidth":1.5,"align":"center","baseline":"middle","dy":2},"encoding":{"text":{"field":"t"}}},
{"data":{"values":[{"t":"Área = 252895.49 m2= 25.2895 ha","x":266771.3,"y":8700945.3},{"t":"Perímetro = 5208.24 m","x":266735.1,"y":8700898.4}]},"mark":{"type":"text","font":"DejaVu Sans Mono","fontSize":39,"color":"#ff0000","stroke":"#fff","strokeWidth":1.2,"align":"center","baseline":"middle","dy":2},"encoding":{"text":{"field":"t"}}},
{"data":{"values":[{"t":"1","x":267539.0,"y":8701862.3},{"t":"2","x":267587.0,"y":8701912.4},{"t":"3","x":267660.6,"y":8701879.3},{"t":"4","x":267648.8,"y":8701832.4},{"t":"5","x":267675.5,"y":8701801.5},{"t":"7","x":267140.2,"y":8700347.2},{"t":"6","x":267173.3,"y":8700335.4},{"t":"9","x":266718.0,"y":8699530.4},{"t":"8","x":266830.0,"y":8699487.8}]},"mark":{"type":"text","font":"DejaVu Sans","fontSize":40,"color":"#ff0000","stroke":"#fff","strokeWidth":1.2,"align":"center","baseline":"middle","dy":3},"encoding":{"text":{"field":"t"}}},
{"data":{"values":[{"t":"108°43'38\"","x":267652.0,"y":8701936.9},{"t":"94°16'12\"","x":267654.2,"y":8701914.5},{"t":"91°21'4\"","x":267532.6,"y":8701693.8},{"t":"267°55'33\"","x":267624.3,"y":8701634.7},{"t":"158°24'10\"","x":267451.6,"y":8701514.7},{"t":"89°21'41\"","x":267109.3,"y":8700548.7},{"t":"270°7'57\"","x":267081.6,"y":8700467.6},{"t":"91°26'23\"","x":266653.0,"y":8699632.8},{"t":"88°23'23\"","x":266863.0,"y":8699543.7}]},"mark":{"type":"text","font":"DejaVu Sans","fontSize":16.5,"color":"#808080","align":"left","baseline":"alphabetic"},"encoding":{"text":{"field":"t"}}},
{"data":{"values":[{"t":"87.61","x":266783.0,"y":8699529.7},{"t":"45.26","x":267614.7,"y":8701870.1},{"t":"36.67","x":267638.5,"y":8701807.2},{"t":"35.89","x":267146.3,"y":8700378.4}]},"mark":{"type":"text","font":"Liberation Sans","fontWeight":"bold","fontSize":14.5,"color":"#000","align":"center","baseline":"middle","angle":20},"encoding":{"text":{"field":"t"}}},
{"data":{"values":[{"t":"63.15","x":267582.7,"y":8701860.1}]},"mark":{"type":"text","font":"Liberation Sans","fontWeight":"bold","fontSize":14.5,"color":"#000","align":"center","baseline":"middle","angle":-48},"encoding":{"text":{"field":"t"}}},
{"data":{"values":[{"t":"51.76","x":267623.5,"y":8701842.8},{"t":"2450.32","x":267157.6,"y":8700690.5},{"t":"1527.23","x":267398.8,"y":8701091.4},{"t":"920.36","x":266969.2,"y":8699944.1}]},"mark":{"type":"text","font":"Liberation Sans","fontWeight":"bold","fontSize":14.5,"color":"#000","align":"center","baseline":"middle","angle":-70.5},"encoding":{"text":{"field":"t"}}},
{"data":{"values":[{"t":"ESCALA GRÁFICA","x":265872.8,"y":8699392.1}]},"mark":{"type":"text","font":"Liberation Sans","fontSize":21,"color":"#000","stroke":"#000","strokeWidth":0.3,"align":"center","baseline":"middle","dy":1},"encoding":{"text":{"field":"t"}}},
{"data":{"values":[{"t":"1 : 10000","x":265870.9,"y":8699369.1}]},"mark":{"type":"text","font":"Liberation Sans","fontWeight":"bold","fontSize":16,"color":"#0000ff","align":"center","baseline":"middle","dy":1},"encoding":{"text":{"field":"t"}}},
{"data":{"values":[{"t":"0","x":265627.0,"y":8699348.4},{"t":"100","x":265726.9,"y":8699348.8},{"t":"200","x":265825.2,"y":8699348.1},{"t":"300","x":265925.4,"y":8699347.7},{"t":"400","x":266025.4,"y":8699350.2},{"t":"500 m","x":266114.4,"y":8699350.2}]},"mark":{"type":"text","font":"Liberation Sans","fontWeight":"bold","fontSize":15.8,"color":"#000","align":"center","baseline":"middle","dy":1},"encoding":{"text":{"field":"t"}}},
{"data":{"values":[{"t":"DATUM : WGS84 - UTM ZONA 18 SUR","x":265872.8,"y":8699308.6},{"t":"CUADRICULA UTM CADA 750 m","x":265873.1,"y":8699287.3}]},"mark":{"type":"text","font":"Liberation Sans","fontWeight":"bold","fontSize":16.3,"color":"#000","align":"center","baseline":"middle","dy":1},"encoding":{"text":{"field":"t"}}}
]}
